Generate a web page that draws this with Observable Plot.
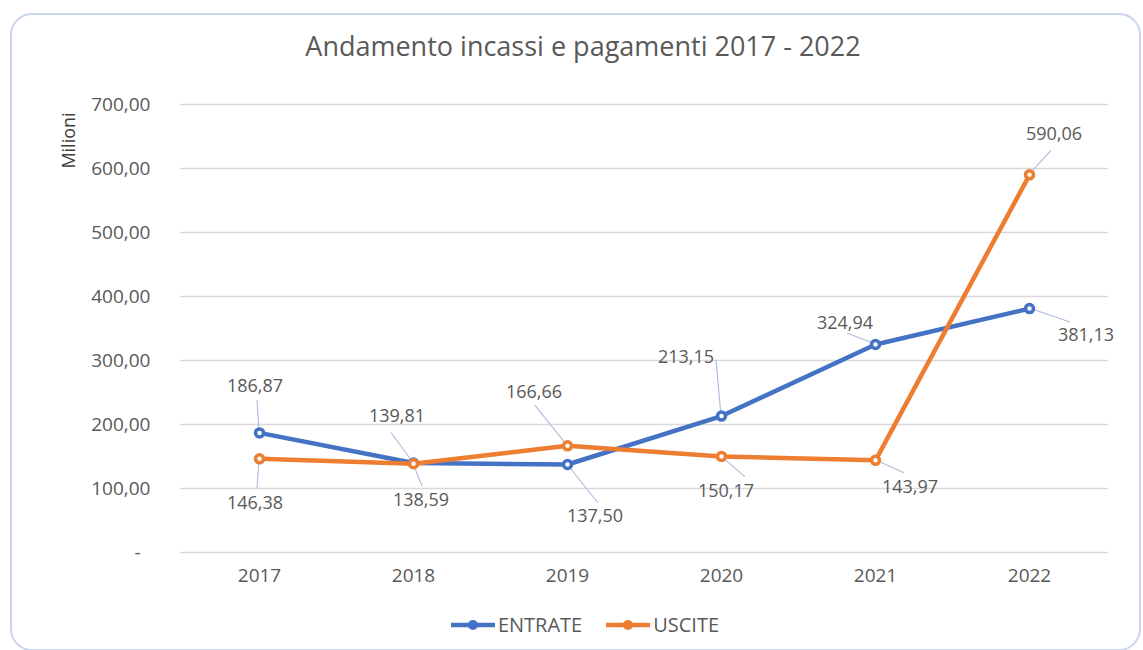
<!DOCTYPE html>
<html>
<head>
<meta charset="utf-8">
<script src="https://cdn.jsdelivr.net/npm/d3@7"></script>
<script src="https://cdn.jsdelivr.net/npm/@observablehq/plot@0.6"></script>
<style>
  html, body { margin: 0; padding: 0; background: #ffffff; }
  body { width: 1143px; height: 650px; position: relative; overflow: hidden; font-family: "Open Sans", sans-serif; }
  #frame { position: absolute; left: 10px; top: 13px; width: 1131px; height: 638px; box-sizing: border-box;
           border: 2px solid #c8d5ec; border-radius: 22px; }
  #title { position: absolute; top: 28px; left: 583px; transform: translateX(-50%); white-space: nowrap;
           font-size: 27px; line-height: 36px; color: #595959; }
  #chart { position: absolute; top: 70px; left: 0; }
  #legend { position: absolute; top: 612px; left: 585px; transform: translateX(-50%); display: flex; align-items: center;
            white-space: nowrap; font-size: 20px; line-height: 26px; color: #595959; }
  #legend .item { display: flex; align-items: center; margin: 0 12px; }
  #legend svg { margin-right: 3px; }
</style>
</head>
<body>
<div id="frame"></div>
<div id="title">Andamento incassi e pagamenti 2017 - 2022</div>
<div id="chart"></div>
<div id="legend"></div>
<script>
// ---- data ----
const years = ["2017", "2018", "2019", "2020", "2021", "2022"];
const seriesNames = ["ENTRATE", "USCITE"];
const entrate = [186.87, 139.81, 137.50, 213.15, 324.94, 381.13];
const uscite = [146.38, 138.59, 166.66, 150.17, 143.97, 590.06];
const yTicks = [0, 100, 200, 300, 400, 500, 600, 700];

// ---- styling (label placement offsets in pixels: textDx, textDy, leaderDx, leaderDy) ----
const seriesColors = ["#4472C4", "#ED7D31"];
const entrateLabelOffsets = [[-4, -47, -2, -32], [-16, -47, -22, -30], [28, 52, 31, 39], [-35, -59, -5, -56], [-30, -22, -28, -11], [57, 26, 41, 14]];
const usciteLabelOffsets = [[-4, 44, -2, 30], [8, 36, 9, 23], [-33, -54, -32, -40], [5, 35, 24, 21], [35, 27, 29, 13], [25, -41, 22, -24]];

const fmt = v => v.toFixed(2).replace(".", ",");

const rows = [];
years.forEach((yr, i) => rows.push({ year: yr, value: entrate[i], series: seriesNames[0], off: entrateLabelOffsets[i] }));
years.forEach((yr, i) => rows.push({ year: yr, value: uscite[i], series: seriesNames[1], off: usciteLabelOffsets[i] }));

function labelMark(index, scales, values, dimensions) {
  const g = d3.create("svg:g");
  for (const d of rows) {
    const px = scales.x(d.year);
    const py = scales.y(d.value);
    const [tdx, tdy, ldx, ldy] = d.off;
    g.append("line")
      .attr("x1", px).attr("y1", py)
      .attr("x2", px + ldx).attr("y2", py + ldy)
      .attr("stroke", "#aabcdb").attr("stroke-width", 1.1);
    g.append("text")
      .attr("x", px + tdx).attr("y", py + tdy)
      .attr("dy", "0.36em")
      .attr("text-anchor", "middle")
      .attr("fill", "#595959")
      .attr("font-size", 18)
      .text(fmt(d.value));
  }
  return g.node();
}

const chart = Plot.plot({
  width: 1143,
  height: 530,
  marginTop: 34,
  marginBottom: 48,
  marginLeft: 180,
  marginRight: 35,
  style: { fontFamily: "Open Sans, sans-serif", fontSize: "19px", color: "#595959", background: "transparent", overflow: "visible" },
  x: { type: "point", domain: years, padding: 0.5, label: null, tickSize: 0, tickPadding: 16 },
  y: { domain: [0, 700], ticks: yTicks, tickFormat: v => v === 0 ? "-\u00a0\u00a0" : fmt(v), label: null, tickSize: 0, tickPadding: 30 },
  color: { domain: seriesNames, range: seriesColors },
  marks: [
    Plot.gridY(yTicks, { stroke: "#d9d9d9", strokeOpacity: 1, strokeWidth: 1.5 }),
    Plot.text(["Milioni"], { frameAnchor: "top-left", textAnchor: "middle", dx: -118, dy: 36, rotate: -90, fontSize: 18, fill: "#404040", text: d => d }),
    labelMark,
    Plot.line(rows, { x: "year", y: "value", stroke: "series", z: "series", strokeWidth: 4.5 }),
    Plot.dot(rows, { x: "year", y: "value", stroke: "series", fill: "white", r: 4, strokeWidth: 3.5 })
  ]
});
document.getElementById("chart").appendChild(chart);

// ---- legend ----
const legend = d3.select("#legend");
seriesNames.forEach((name, i) => {
  const item = legend.append("div").attr("class", "item");
  const sw = item.append("svg").attr("width", 44).attr("height", 14);
  sw.append("line").attr("x1", 1).attr("x2", 43).attr("y1", 7).attr("y2", 7)
    .attr("stroke", seriesColors[i]).attr("stroke-width", 4.5).attr("stroke-linecap", "round");
  sw.append("circle").attr("cx", 22).attr("cy", 7).attr("r", 5).attr("fill", seriesColors[i]);
  item.append("span").text(name);
});
</script>
</body>
</html>
